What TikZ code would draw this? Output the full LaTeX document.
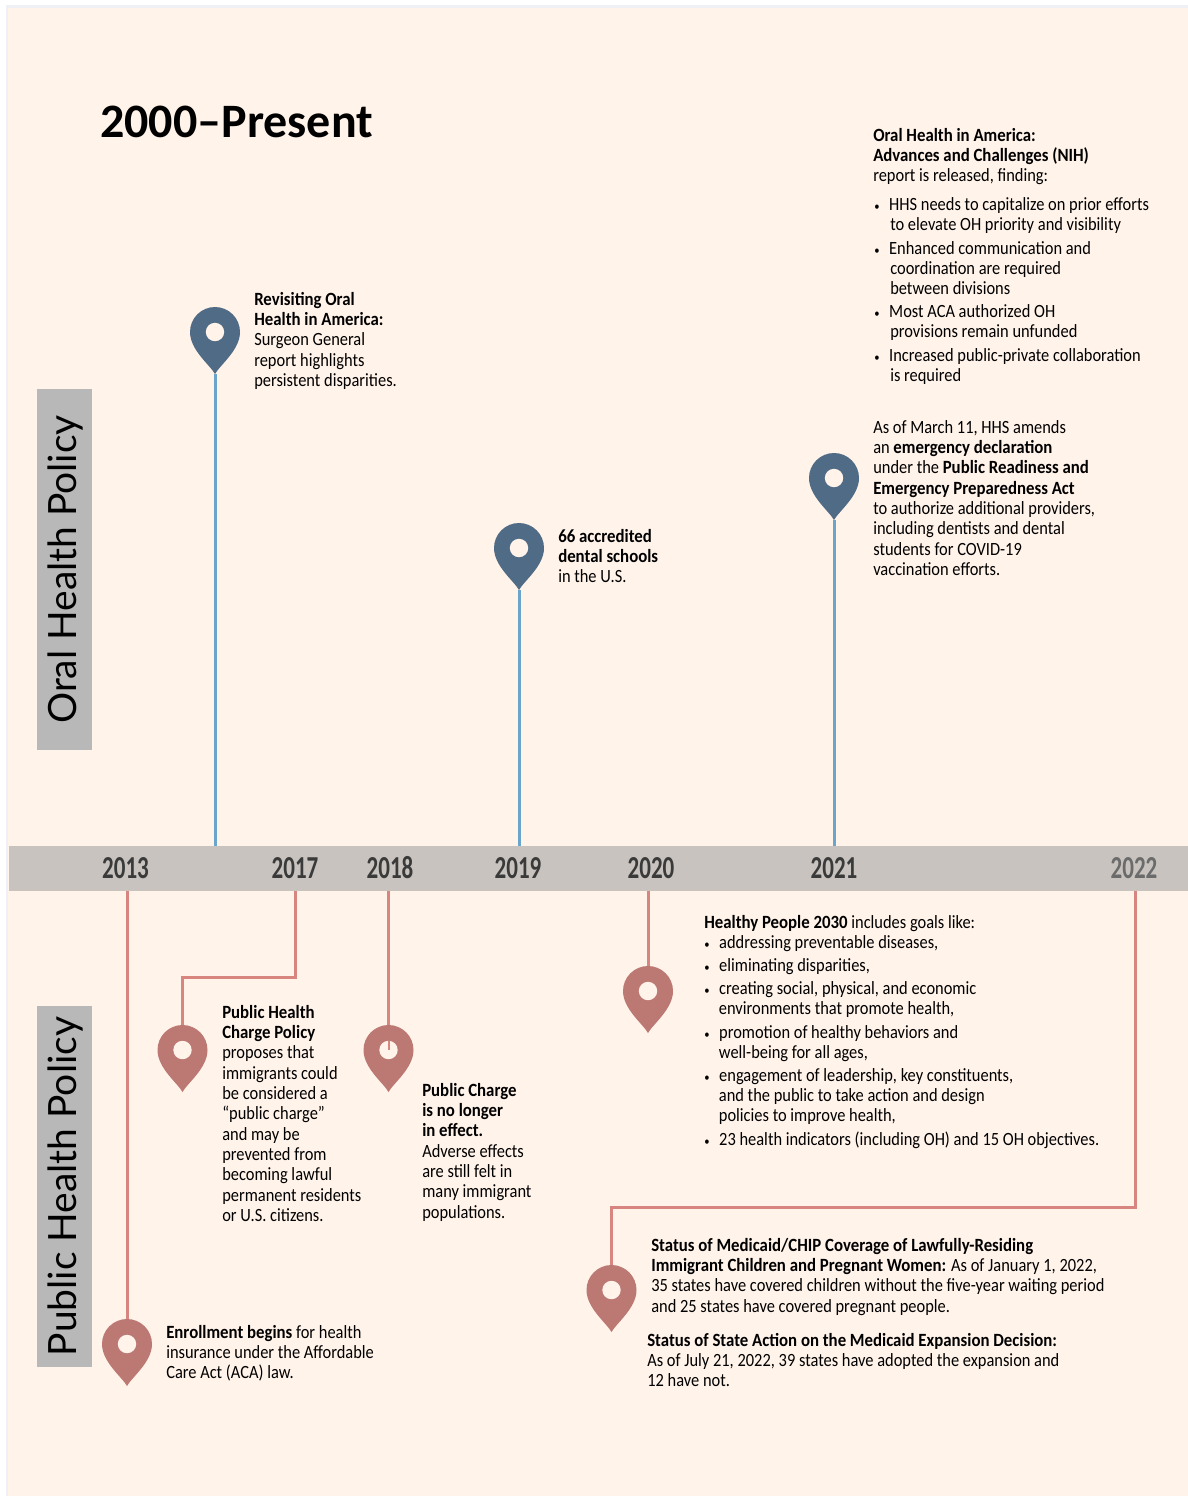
\documentclass[tikz,border=0pt]{standalone}
\usepackage{fontspec}
\setmainfont[FakeStretch=0.88,BoldFeatures={FakeStretch=0.9}]{Carlito}
\newfontfamily\sidefont{Lato}
\newfontfamily\yearfont[FakeStretch=0.72]{Carlito Bold}
\newfontfamily\titlefont{Carlito Bold}
\definecolor{bgc}{HTML}{FFF3EA}
\definecolor{edgec}{HTML}{EFF0F6}
\definecolor{barc}{HTML}{C8C3BE}
\definecolor{sidec}{HTML}{B8B8B8}
\definecolor{bluepin}{HTML}{4F6B85}
\definecolor{redpin}{HTML}{BC7872}
\definecolor{blueline}{HTML}{6AA6CB}
\definecolor{redline}{HTML}{D8857F}
\definecolor{yearc}{HTML}{3A3A3A}
\definecolor{yearlast}{HTML}{6B6B6B}
\newcommand\tb[1]{\begin{tabular}[t]{@{}l@{}}#1\end{tabular}}
\newcommand\bu{\makebox[11.2pt][l]{\fontsize{9pt}{9pt}\selectfont•}}
\newcommand\cn{\hspace*{12pt}}
\newcommand\cm{\hspace*{8.2pt}}
\tikzset{
  x=0.75pt,y=-0.75pt,
  txt/.style={anchor=base west,inner sep=0pt,yshift=-0.5pt,text=black,font=\fontsize{14pt}{15.25pt}\selectfont},
  yearlab/.style={inner sep=0pt,text=yearc,font=\fontsize{24pt}{26pt}\selectfont\yearfont},
  sidebox/.style={fill=sidec,inner sep=0pt,minimum width=270.75pt,minimum height=41.25pt,rotate=90,text=black,text height=24pt,text depth=6pt,font=\fontsize{29.2pt}{32pt}\selectfont\sidefont},
  bl/.style={blueline,line width=2.25pt},
  rl/.style={redline,line width=2.25pt},
  mappin/.pic={
    \fill[#1] (0,42) .. controls (-5,33) and (-25,18) .. (-25,0)
       arc[start angle=180,end angle=0,radius=18.75pt]
       .. controls (25,18) and (5,33) .. (0,42) -- cycle;
    \fill[bgc] (0,0) circle[radius=6.9pt];
    \coordinate (-top) at (0,-25);
    \coordinate (-tip) at (0,42);
    \coordinate (-mid) at (0,0);
    \coordinate (-holetop) at (0,-9);
  }
}
\begin{document}
\begin{tikzpicture}
\useasboundingbox (0,0) rectangle (1188,1496);
\fill[white] (0,0) rectangle (1188,1496);
\fill[edgec] (6,5) rectangle (1188,1496);
\fill[bgc] (8,7.5) rectangle (1188,1496);

\node[fill=barc,inner sep=0pt,minimum width=884.25pt,minimum height=33.75pt] (bar) at (598.5,868.5) {};

\node[sidebox] (oral) at (64.5,569.5) {Oral Health Policy};
\node[sidebox] (pub) at (64.5,1186.5) {Public Health Policy};

\node[anchor=base west,inner sep=0pt,font=\fontsize{36pt}{38pt}\selectfont\titlefont] (title) at (100,137) {2000–Present};

\node[yearlab] (y13) at (125.5,868) {2013};
\node[yearlab] (y17) at (295,868) {2017};
\node[yearlab] (y18) at (390,868) {2018};
\node[yearlab] (y19) at (518,868) {2019};
\node[yearlab] (y20) at (651,868) {2020};
\node[yearlab] (y21) at (834,868) {2021};
\node[yearlab,text=yearlast] (y22) at (1134,868) {2022};

\coordinate (e17) at (295,977);
\coordinate (e22) at (1135,1207);

\pic (pa) at (215,332) {mappin=bluepin};
\pic (pb) at (519,548) {mappin=bluepin};
\pic (pc) at (834,478) {mappin=bluepin};
\pic (pd) at (127,1344) {mappin=redpin};
\pic (pe) at (182.5,1050) {mappin=redpin};
\pic (pf) at (388.5,1050) {mappin=redpin};
\pic (pg) at (648,991) {mappin=redpin};
\pic (ph) at (611.5,1290) {mappin=redpin};

\draw[bl] (pa-tip) -- (pa-tip |- bar.north);
\draw[bl] (pb-tip) -- (pb-tip |- bar.north);
\draw[bl] (pc-tip) -- (pc-tip |- bar.north);
\draw[rl] (pd-top |- bar.south) -- (pd-top);
\draw[rl] (e17 |- bar.south) -- (e17) -| (pe-top);
\draw[rl] (pf-top |- bar.south) -- (pf-top);
\draw[redline,line width=1.5pt] (pf-holetop) -- (pf-mid);
\draw[rl] (pg-top |- bar.south) -- (pg-top);
\draw[rl] (e22 |- bar.south) -- (e22) -| (ph-top);

\node[txt] (t1) at (254,304.5) {\tb{\textbf{Revisiting Oral}\\\textbf{Health in America:}\\Surgeon General\\report highlights\\persistent disparities.}};

\node[txt] (t2) at (873,140.5) {\tb{\textbf{Oral Health in America:}\\\textbf{Advances and Challenges (NIH)}\\report is released, finding:}};
\node[txt] (t2a) at (874,209.5) {\tb{\bu HHS needs to capitalize on prior efforts\\\cn to elevate OH priority and visibility}};
\node[txt] (t2b) at (874,253.5) {\tb{\bu Enhanced communication and\\\cn coordination are required\\\cn between divisions}};
\node[txt] (t2c) at (874,316.5) {\tb{\bu Most ACA authorized OH\\\cn provisions remain unfunded}};
\node[txt] (t2d) at (874,360.5) {\tb{\bu Increased public-private collaboration\\\cn is required}};

\node[txt] (t3) at (873,432.5) {\tb{As of March 11, HHS amends\\an \textbf{emergency declaration}\\under the \textbf{Public Readiness and}\\\textbf{Emergency Preparedness Act}\\to authorize additional providers,\\including dentists and dental\\students for COVID-19\\vaccination efforts.}};

\node[txt] (t4) at (558,541.5) {\tb{\textbf{66 accredited}\\\textbf{dental schools}\\in the U.S.}};

\node[txt] (t5) at (704,927.5) {\tb{\textbf{Healthy People 2030} includes goals like:}};
\node[txt] (t5a) at (704,947.5) {\tb{\bu addressing preventable diseases,}};
\node[txt] (t5b) at (704,970.5) {\tb{\bu eliminating disparities,}};
\node[txt] (t5c) at (704,993.5) {\tb{\bu creating social, physical, and economic\\\cm\ environments that promote health,}};
\node[txt] (t5d) at (704,1037.5) {\tb{\bu promotion of healthy behaviors and\\\cm\ well-being for all ages,}};
\node[txt] (t5e) at (704,1080.5) {\tb{\bu engagement of leadership, key constituents,\\\cm\ and the public to take action and design\\\cm\ policies to improve health,}};
\node[txt] (t5f) at (704,1144.5) {\tb{\bu 23 health indicators (including OH) and 15 OH objectives.}};

\node[txt] (t6) at (222,1017.5) {\tb{\textbf{Public Health}\\\textbf{Charge Policy}\\proposes that\\immigrants could\\be considered a\\“public charge”\\and may be\\prevented from\\becoming lawful\\permanent residents\\or U.S. citizens.}};

\node[txt] (t7) at (422,1095.5) {\tb{\textbf{Public Charge}\\\textbf{is no longer}\\\textbf{in effect.}\\Adverse effects\\are still felt in\\many immigrant\\populations.}};

\node[txt] (t8) at (166,1337.5) {\tb{\textbf{Enrollment begins} for health\\insurance under the Affordable\\Care Act (ACA) law.}};

\node[txt] (t9) at (651,1250.5) {\tb{\textbf{Status of Medicaid/CHIP Coverage of Lawfully-Residing}\\\textbf{Immigrant Children and Pregnant Women:} As of January 1, 2022,\\35 states have covered children without the five-year waiting period\\and 25 states have covered pregnant people.}};

\node[txt] (t10) at (647,1345.5) {\tb{\textbf{Status of State Action on the Medicaid Expansion Decision:}\\As of July 21, 2022, 39 states have adopted the expansion and\\12 have not.}};
\end{tikzpicture}
\end{document}
